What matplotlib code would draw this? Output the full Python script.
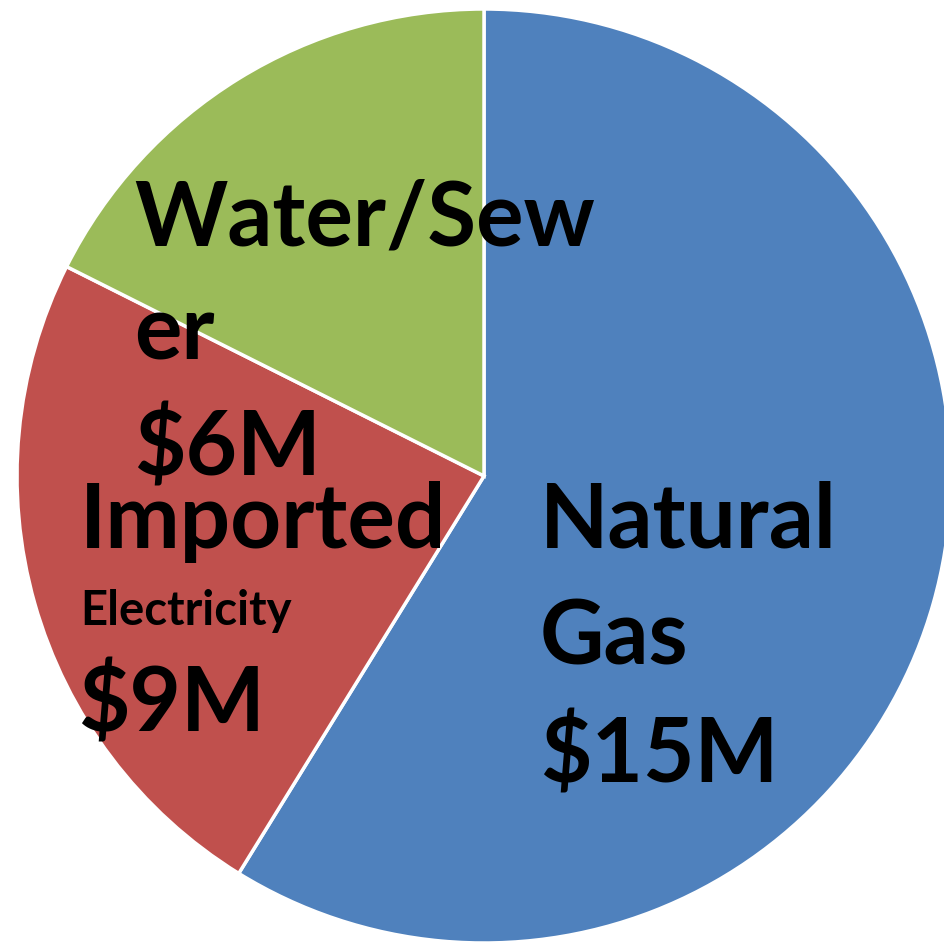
import matplotlib
matplotlib.use("Agg")
import matplotlib.pyplot as plt

# Данные
categories = ["Natural Gas", "Imported Electricity", "Water/Sewer"]
amounts = ["$15M", "$9M", "$6M"]
shares = [58.8, 23.6, 17.6]  # доли секторов, как на картинке
colors = ["#4F81BD", "#C0504D", "#9BBB59"]

W, H = 944, 945
cx, cy, r = 484, 477, 467  # центр и радиус круга в пикселях

fig = plt.figure(figsize=(W / 100, H / 100), dpi=100)
ax = fig.add_axes([(cx - r) / W, (H - cy - r) / H, 2 * r / W, 2 * r / H])
ax.pie(shares, colors=colors, startangle=90, counterclock=False,
       wedgeprops=dict(edgecolor="white", linewidth=2.5))
ax.set_xlim(-1, 1)
ax.set_ylim(-1, 1)
ax.set_aspect("equal")
ax.axis("off")


def px(x, y):
    return (x - cx) / r, (cy - y) / r


font = dict(family=["Lato", "DejaVu Sans"], weight="bold", color="black",
            va="baseline", ha="left")
big = 64
small = 34

# Water/Sewer
for text, y in [("Water/Sew", 245), ("er", 360), (amounts[2], 476)]:
    ax.text(*px(134, y), text, fontsize=big, **font)

# Imported Electricity
ax.text(*px(80, 548), "Imported", fontsize=big, **font)
ax.text(*px(80, 625), "Electricity", fontsize=small, **font)
ax.text(*px(78, 732), amounts[1], fontsize=big, **font)

# Natural Gas
for text, y in [("Natural", 548), ("Gas", 665), (amounts[0], 783)]:
    ax.text(*px(540, y), text, fontsize=big, **font)

fig.savefig("out.png", dpi=100)
